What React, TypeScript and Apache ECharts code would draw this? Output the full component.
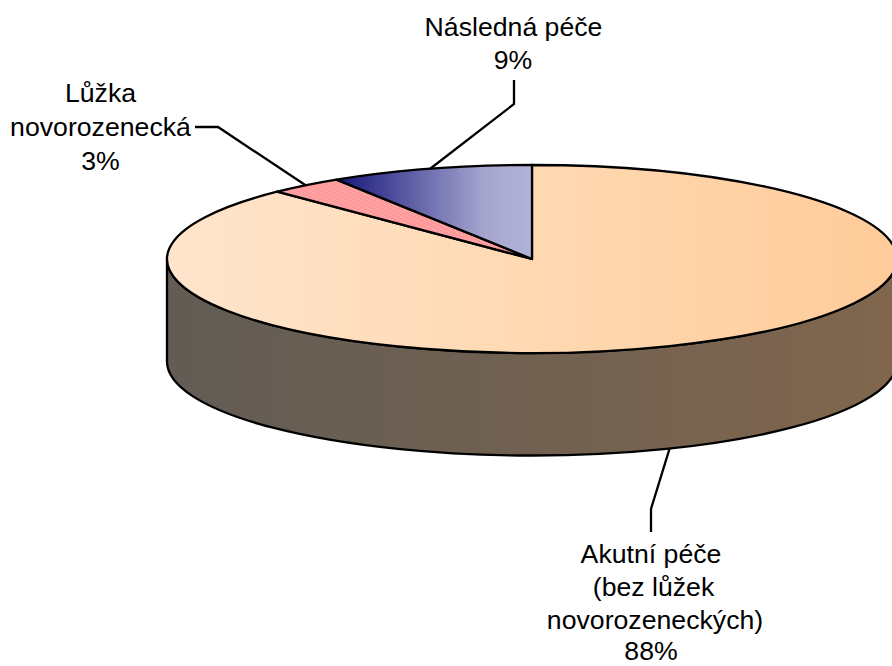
import React, { useEffect, useRef } from "react";
import * as echarts from "echarts";

const categories = [["Akutní péče", "(bez lůžek", "novorozeneckých)"], ["Lůžka", "novorozenecká"], ["Následná péče"]];
const values = [87.7, 3.3, 9];

const CX = 532, CY = 259, RX = 365, RY = 94, DEPTH = 102.5;
const FONT = "'Liberation Sans', Arial, sans-serif";
const FONT_SIZE = 26.67;

const labelLayout = [
  { xs: [651, 653.5, 655, 651], ys: [554, 587, 620, 650.5], elbow: [[651, 509], [651, 532]] },
  { xs: [100.5, 100.5, 100.5], ys: [93, 127, 161], elbow: [[218, 127], [195, 127]] },
  { xs: [513.5, 513], ys: [27, 60], elbow: [[514, 104], [514, 80]] },
];

const makeHatch = () => {
  const c = document.createElement("canvas");
  c.width = 8;
  c.height = 4;
  const g = c.getContext("2d")!;
  g.fillStyle = "#FF9A9C";
  g.fillRect(0, 0, 8, 4);
  g.fillStyle = "#FFB4B4";
  for (let i = 0; i < 4; i++) g.fillRect(i * 2, i, 1, 1);
  return c;
};

const topFills: any[] = [
  new echarts.graphic.LinearGradient(0, 0, 1, 0, [
    { offset: 0, color: "#FFE5CC" },
    { offset: 1, color: "#FFCC99" },
  ]),
  { image: makeHatch(), repeat: "repeat" },
  new echarts.graphic.LinearGradient(0, 0, 1, 0, [
    { offset: 0, color: "#16167C" },
    { offset: 0.75, color: "#A4A4CE" },
    { offset: 1, color: "#B3B3D9" },
  ]),
];
const sideFills = [
  new echarts.graphic.LinearGradient(0, 0, 1, 0, [
    { offset: 0, color: "#625C55" },
    { offset: 1, color: "#80664D" },
  ]),
  "#7F4D4F",
  "#59596C",
];

const total = values.reduce((a, b) => a + b, 0);
const pt = (deg: number, dy = 0): [number, number] => {
  const a = (deg * Math.PI) / 180;
  return [CX + RX * Math.sin(a), CY - RY * Math.cos(a) + dy];
};
const arc = (from: number, to: number, dy = 0) => {
  const segs: string[] = [];
  const n = Math.max(1, Math.ceil(Math.abs(to - from) / 90));
  const sweep = to > from ? 1 : 0;
  for (let i = 1; i <= n; i++) {
    const [x, y] = pt(from + ((to - from) * i) / n, dy);
    segs.push(`A ${RX} ${RY} 0 0 ${sweep} ${x} ${y}`);
  }
  return segs.join(" ");
};

const renderItem = (params: any) => {
  const i = params.dataIndex;
  const start = (values.slice(0, i).reduce((a, b) => a + b, 0) / total) * 360;
  const end = start + (values[i] / total) * 360;
  const mid = (start + end) / 2;
  const children: any[] = [];
  const lineStyle = { stroke: "#000", lineWidth: 2.3, lineJoin: "round" };

  const s0 = Math.max(start, 90), s1 = Math.min(end, 270);
  if (s1 > s0) {
    const a = pt(s0), c = pt(s1, 0);
    const a2 = pt(s0, DEPTH);
    children.push({
      type: "path",
      shape: {
        pathData: `M ${a[0]} ${a[1]} L ${a2[0]} ${a2[1]} ${arc(s0, s1, DEPTH)} L ${c[0]} ${c[1]} ${arc(s1, s0)} Z`,
      },
      style: { fill: sideFills[i], ...lineStyle },
    });
  }

  const p0 = pt(start);
  children.push({
    type: "path",
    shape: { pathData: `M ${CX} ${CY} L ${p0[0]} ${p0[1]} ${arc(start, end)} Z` },
    style: { fill: topFills[i], ...lineStyle },
  });

  const front = mid > 90 && mid < 270;
  const anchor = pt(mid, front ? DEPTH : 0);
  const lay = labelLayout[i];
  children.push({
    type: "polyline",
    shape: { points: [anchor, ...lay.elbow] },
    style: { stroke: "#000", lineWidth: 2.3, fill: "none" },
    z2: 10,
  });
  const lines = [...categories[i], `${Math.round((values[i] / total) * 100)}%`];
  lines.forEach((text, k) => {
    children.push({
      type: "text",
      x: lay.xs[k],
      y: lay.ys[k],
      style: {
        text,
        font: `${FONT_SIZE}px ${FONT}`,
        fill: "#000",
        align: "center",
        verticalAlign: "middle",
        lineHeight: 24,
      },
      z2: 11,
    });
  });
  return { type: "group", children };
};

export default function App() {
  const ref = useRef<HTMLDivElement>(null);
  useEffect(() => {
    document.body.style.margin = "0";
    const chart = echarts.init(ref.current!, null, { renderer: "svg" });
    chart.setOption({
      animation: false,
      backgroundColor: "#fff",
      series: [
        {
          type: "custom",
          coordinateSystem: "none",
          clip: false,
          data: values,
          renderItem,
        },
      ],
    });
    return () => chart.dispose();
  }, []);
  return <div ref={ref} style={{ width: 892, height: 666, overflow: "hidden" }} />;
}
